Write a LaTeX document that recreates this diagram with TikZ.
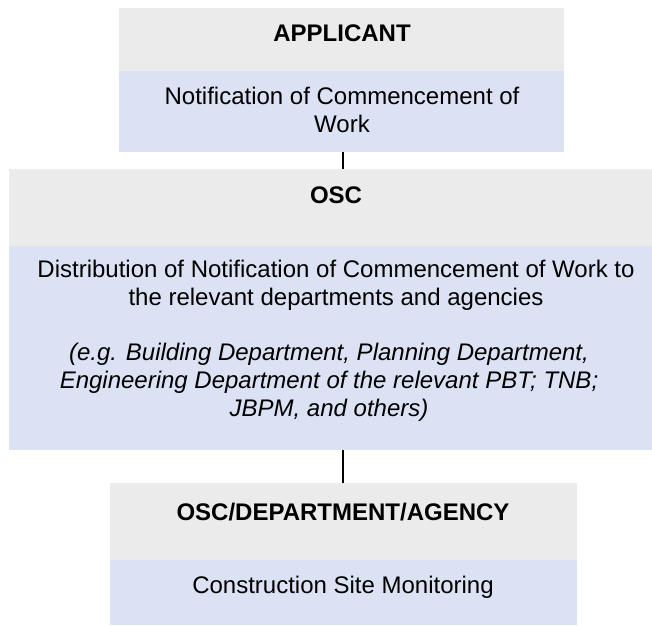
\documentclass[tikz,border=0pt]{standalone}
\usepackage{fontspec}
\setmainfont{Liberation Sans}
\definecolor{hdrgray}{RGB}{235,235,235}
\definecolor{bodyblue}{RGB}{218,226,243}
\begin{document}
\begin{tikzpicture}[x=1pt,y=-1pt,
  panel/.style={rectangle, inner sep=0pt, outer sep=0pt, anchor=north west},
  hdrbox/.style={panel, fill=hdrgray},
  bodybox/.style={panel, fill=bodyblue},
  label/.style={inner sep=0pt, align=center, font=\fontsize{24}{28}\selectfont},
  link/.style={line width=2.6pt, black}]
\clip (0,0) rectangle (652,625);
\fill[white] (0,0) rectangle (652,625);

% Applicant panel
\node[hdrbox, minimum width=445pt, minimum height=62.5pt] (h1) at (119,8) {};
\node[bodybox, minimum width=445pt, minimum height=81.5pt] (b1) at (119,70.5) {};
\node[label] (h1t) at (342,33) {\bfseries APPLICANT};
\node[label] (b1t) at (342,110) {Notification of Commencement of\\Work};

% OSC panel
\node[hdrbox, minimum width=651pt, minimum height=77pt] (h2) at (9,169) {};
\node[bodybox, minimum width=651pt, minimum height=204pt] (b2) at (9,246) {};
\node[label] (h2t) at (336,195) {\bfseries OSC};
\node[label] (b2t) at (336,285.5) {Distribution of Notification of Commencement of Work to\\the relevant departments and agencies};
\node[label] (b2i) at (329,382) {\itshape (e.g. Building Department, Planning Department,\\\itshape Engineering Department of the relevant PBT; TNB;\\\itshape JBPM, and others)};

% OSC/Department/Agency panel
\node[hdrbox, minimum width=467pt, minimum height=77pt] (h3) at (110,483) {};
\node[bodybox, minimum width=467pt, minimum height=65pt] (b3) at (110,560) {};
\node[label] (h3t) at (343,512) {\bfseries OSC/DEPARTMENT/AGENCY};
\node[label] (b3t) at (343,587) {Construction Site Monitoring};

% connectors between the panels
\draw[link] (b1.south -| 343,0) -- (h2.north -| 343,0);
\draw[link] (b2.south -| 343,0) -- (h3.north -| 343,0);
\end{tikzpicture}
\end{document}
